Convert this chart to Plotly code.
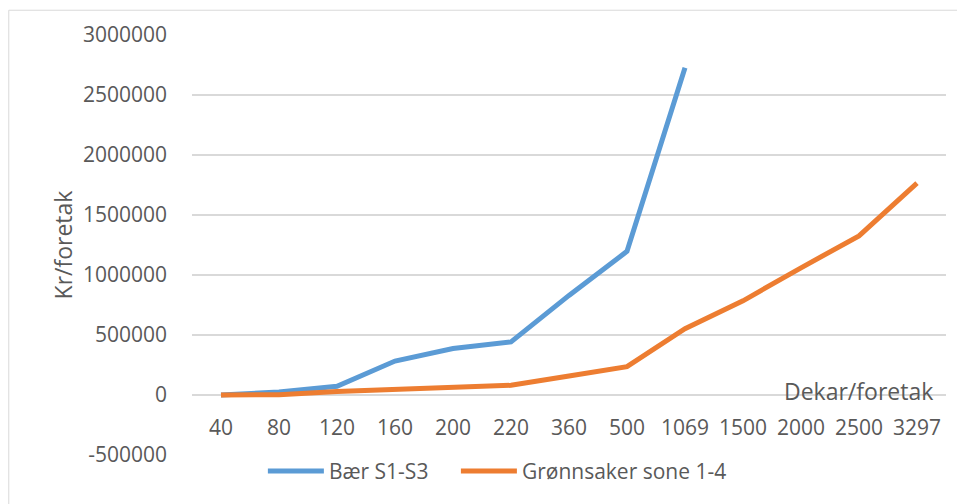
import plotly.graph_objects as go

# Dekar per foretak (kategorier)
dekar = ["40", "80", "120", "160", "200", "220", "360", "500", "1069",
         "1500", "2000", "2500", "3297"]

# Kr per foretak
baer = [0, 25000, 72000, 283000, 387000, 442000, 830000, 1197000, 2727000,
        None, None, None, None]
gronnsaker = [0, 3000, 30000, 49000, 68000, 81000, 159000, 236000, 552000,
              785000, 1060000, 1326000, 1765000]

y_ticks = [-500000, 0, 500000, 1000000, 1500000, 2000000, 2500000, 3000000]
y_labels = [str(v) for v in y_ticks]

FONT = "Open Sans"
GREY = "#595959"

fig = go.Figure()
fig.add_trace(go.Scatter(x=dekar, y=baer, mode="lines", name="Bær S1-S3",
                         line=dict(color="#5B9BD5", width=5), legend="legend"))
fig.add_trace(go.Scatter(x=dekar, y=gronnsaker, mode="lines",
                         name="Grønnsaker sone 1-4",
                         line=dict(color="#ED7D31", width=5), legend="legend2"))

fig.update_xaxes(
    type="category",
    range=[-0.5, 12.5],
    showgrid=False,
    showline=False,
    zeroline=False,
    anchor="free",
    position=0.1,
    ticks="",
    tickfont=dict(family=FONT, size=21, color=GREY),
)
fig.update_yaxes(
    range=[-500000, 3000000],
    tickvals=y_ticks,
    ticktext=y_labels,
    showgrid=True,
    gridcolor="#d9d9d9",
    gridwidth=1.5,
    zeroline=False,
    showline=False,
    ticks="",
    ticklabelstandoff=24,
    tickfont=dict(family=FONT, size=21, color=GREY),
    title=dict(text="Kr/foretak", standoff=3,
               font=dict(family=FONT, size=23, color=GREY)),
)

fig.add_annotation(text="Dekar/foretak", xref="paper", yref="y", x=0.9854, y=0,
                   xanchor="right", yanchor="middle", yshift=4, showarrow=False,
                   font=dict(family=FONT, size=23, color=GREY))

# ramme rundt diagrammet
fig.add_shape(type="rect", xref="paper", yref="paper",
              x0=-0.243, x1=1.03, y0=-0.125, y1=1.059,
              line=dict(color="#d9d9d9", width=1))

legend_style = dict(orientation="h", xanchor="left", y=0.01, yanchor="top",
                    font=dict(family=FONT, size=21, color=GREY),
                    itemwidth=56, bgcolor="rgba(0,0,0,0)")

fig.update_layout(
    width=957, height=496,
    margin=dict(l=184, r=19, t=25, b=47),
    plot_bgcolor="white",
    paper_bgcolor="white",
    showlegend=True,
    legend=dict(x=0.094, **legend_style),
    legend2=dict(x=0.350, **legend_style),
)

fig.write_html("out.html")
